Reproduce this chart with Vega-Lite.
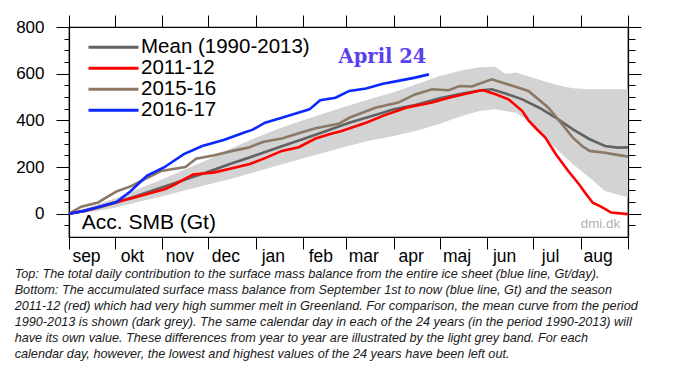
{
  "$schema": "https://vega.github.io/schema/vega-lite/v6.json",
  "width": 559,
  "height": 210,
  "padding": {"left": 14, "top": 14, "right": 5, "bottom": 5},
  "background": "white",
  "config": {
    "font": "Liberation Sans",
    "view": {"stroke": "black", "strokeWidth": 1.2},
    "axis": {"grid": false, "domainColor": "black", "tickColor": "black", "labelColor": "black", "title": null, "tickWidth": 1, "domainWidth": 1.2}
  },
  "title": {
    "text": [
      "Top: The total daily contribution to the surface mass balance from the entire ice sheet (blue line, Gt/day).",
      "Bottom: The accumulated surface mass balance from September 1st to now (blue line, Gt) and the season",
      "2011-12 (red) which had very high summer melt in Greenland. For comparison, the mean curve from the period",
      "1990-2013 is shown (dark grey). The same calendar day in each of the 24 years (in the period 1990-2013) will",
      "have its own value. These differences from year to year are illustrated by the light grey band. For each",
      "calendar day, however, the lowest and highest values of the 24 years have been left out."
    ],
    "orient": "bottom",
    "anchor": "start",
    "frame": "bounds",
    "font": "Liberation Sans",
    "fontStyle": "italic",
    "fontWeight": "normal",
    "fontSize": 12.7,
    "lineHeight": 16,
    "color": "#1a1a1a",
    "offset": 3,
    "dx": -1
  },
  "datasets": {
    "band": [
      {"d": 0, "lo": 0, "hi": 3}, {"d": 15, "lo": 8, "hi": 32}, {"d": 30, "lo": 25, "hi": 65},
      {"d": 45, "lo": 50, "hi": 105}, {"d": 61, "lo": 75, "hi": 148}, {"d": 76, "lo": 100, "hi": 190},
      {"d": 91, "lo": 125, "hi": 232}, {"d": 106, "lo": 150, "hi": 280}, {"d": 122, "lo": 180, "hi": 325},
      {"d": 137, "lo": 208, "hi": 365}, {"d": 153, "lo": 238, "hi": 400}, {"d": 167, "lo": 262, "hi": 430},
      {"d": 181, "lo": 288, "hi": 460}, {"d": 196, "lo": 312, "hi": 490}, {"d": 212, "lo": 333, "hi": 520},
      {"d": 227, "lo": 355, "hi": 555}, {"d": 242, "lo": 385, "hi": 590}, {"d": 257, "lo": 420, "hi": 615},
      {"d": 268, "lo": 440, "hi": 628}, {"d": 278, "lo": 447, "hi": 630}, {"d": 285, "lo": 440, "hi": 600},
      {"d": 292, "lo": 433, "hi": 605}, {"d": 302, "lo": 385, "hi": 585}, {"d": 313, "lo": 311, "hi": 562},
      {"d": 322, "lo": 254, "hi": 546}, {"d": 329, "lo": 212, "hi": 538}, {"d": 340, "lo": 154, "hi": 533},
      {"d": 350, "lo": 97, "hi": 533}, {"d": 365, "lo": 69, "hi": 533}
    ],
    "lines": [
      {"s": "Mean (1990-2013)", "d": 0, "v": 0}, {"s": "Mean (1990-2013)", "d": 10, "v": 12},
      {"s": "Mean (1990-2013)", "d": 20, "v": 28}, {"s": "Mean (1990-2013)", "d": 30, "v": 46},
      {"s": "Mean (1990-2013)", "d": 45, "v": 78}, {"s": "Mean (1990-2013)", "d": 61, "v": 113},
      {"s": "Mean (1990-2013)", "d": 76, "v": 146}, {"s": "Mean (1990-2013)", "d": 91, "v": 180},
      {"s": "Mean (1990-2013)", "d": 106, "v": 215}, {"s": "Mean (1990-2013)", "d": 122, "v": 250},
      {"s": "Mean (1990-2013)", "d": 137, "v": 285}, {"s": "Mean (1990-2013)", "d": 153, "v": 320},
      {"s": "Mean (1990-2013)", "d": 167, "v": 352}, {"s": "Mean (1990-2013)", "d": 183, "v": 390},
      {"s": "Mean (1990-2013)", "d": 196, "v": 415}, {"s": "Mean (1990-2013)", "d": 205, "v": 433},
      {"s": "Mean (1990-2013)", "d": 212, "v": 447}, {"s": "Mean (1990-2013)", "d": 226, "v": 466},
      {"s": "Mean (1990-2013)", "d": 242, "v": 495}, {"s": "Mean (1990-2013)", "d": 257, "v": 515},
      {"s": "Mean (1990-2013)", "d": 268, "v": 528}, {"s": "Mean (1990-2013)", "d": 276, "v": 533},
      {"s": "Mean (1990-2013)", "d": 285, "v": 515}, {"s": "Mean (1990-2013)", "d": 296, "v": 490},
      {"s": "Mean (1990-2013)", "d": 307, "v": 454}, {"s": "Mean (1990-2013)", "d": 318, "v": 411},
      {"s": "Mean (1990-2013)", "d": 329, "v": 361}, {"s": "Mean (1990-2013)", "d": 340, "v": 319},
      {"s": "Mean (1990-2013)", "d": 350, "v": 290}, {"s": "Mean (1990-2013)", "d": 358, "v": 283},
      {"s": "Mean (1990-2013)", "d": 365, "v": 284},

      {"s": "2015-16", "d": 0, "v": 0}, {"s": "2015-16", "d": 8, "v": 30}, {"s": "2015-16", "d": 19, "v": 48},
      {"s": "2015-16", "d": 31, "v": 95}, {"s": "2015-16", "d": 41, "v": 119}, {"s": "2015-16", "d": 47, "v": 140},
      {"s": "2015-16", "d": 60, "v": 183}, {"s": "2015-16", "d": 76, "v": 200}, {"s": "2015-16", "d": 83, "v": 235},
      {"s": "2015-16", "d": 95, "v": 250}, {"s": "2015-16", "d": 106, "v": 268}, {"s": "2015-16", "d": 117, "v": 283},
      {"s": "2015-16", "d": 127, "v": 308}, {"s": "2015-16", "d": 139, "v": 322}, {"s": "2015-16", "d": 150, "v": 345},
      {"s": "2015-16", "d": 161, "v": 366}, {"s": "2015-16", "d": 176, "v": 385}, {"s": "2015-16", "d": 183, "v": 411},
      {"s": "2015-16", "d": 200, "v": 454}, {"s": "2015-16", "d": 215, "v": 476}, {"s": "2015-16", "d": 226, "v": 511},
      {"s": "2015-16", "d": 237, "v": 533}, {"s": "2015-16", "d": 248, "v": 529}, {"s": "2015-16", "d": 255, "v": 547},
      {"s": "2015-16", "d": 263, "v": 545}, {"s": "2015-16", "d": 276, "v": 576}, {"s": "2015-16", "d": 290, "v": 547},
      {"s": "2015-16", "d": 300, "v": 526}, {"s": "2015-16", "d": 313, "v": 454}, {"s": "2015-16", "d": 322, "v": 383},
      {"s": "2015-16", "d": 329, "v": 326}, {"s": "2015-16", "d": 335, "v": 290}, {"s": "2015-16", "d": 340, "v": 269},
      {"s": "2015-16", "d": 350, "v": 261}, {"s": "2015-16", "d": 358, "v": 252}, {"s": "2015-16", "d": 365, "v": 245},

      {"s": "2011-12", "d": 0, "v": 0}, {"s": "2011-12", "d": 10, "v": 12}, {"s": "2011-12", "d": 18, "v": 25},
      {"s": "2011-12", "d": 31, "v": 50}, {"s": "2011-12", "d": 41, "v": 66}, {"s": "2011-12", "d": 51, "v": 84},
      {"s": "2011-12", "d": 63, "v": 106}, {"s": "2011-12", "d": 69, "v": 125}, {"s": "2011-12", "d": 81, "v": 168},
      {"s": "2011-12", "d": 95, "v": 177}, {"s": "2011-12", "d": 110, "v": 200}, {"s": "2011-12", "d": 118, "v": 213},
      {"s": "2011-12", "d": 128, "v": 238}, {"s": "2011-12", "d": 139, "v": 269}, {"s": "2011-12", "d": 150, "v": 285},
      {"s": "2011-12", "d": 161, "v": 322}, {"s": "2011-12", "d": 170, "v": 340}, {"s": "2011-12", "d": 178, "v": 354},
      {"s": "2011-12", "d": 194, "v": 390}, {"s": "2011-12", "d": 205, "v": 419}, {"s": "2011-12", "d": 220, "v": 454},
      {"s": "2011-12", "d": 237, "v": 476}, {"s": "2011-12", "d": 248, "v": 497}, {"s": "2011-12", "d": 257, "v": 511},
      {"s": "2011-12", "d": 270, "v": 530}, {"s": "2011-12", "d": 279, "v": 511}, {"s": "2011-12", "d": 287, "v": 490},
      {"s": "2011-12", "d": 296, "v": 440}, {"s": "2011-12", "d": 300, "v": 400}, {"s": "2011-12", "d": 305, "v": 365},
      {"s": "2011-12", "d": 311, "v": 326}, {"s": "2011-12", "d": 318, "v": 254}, {"s": "2011-12", "d": 326, "v": 183},
      {"s": "2011-12", "d": 333, "v": 126}, {"s": "2011-12", "d": 337, "v": 90}, {"s": "2011-12", "d": 342, "v": 47},
      {"s": "2011-12", "d": 348, "v": 28}, {"s": "2011-12", "d": 354, "v": 5}, {"s": "2011-12", "d": 365, "v": -2},

      {"s": "2016-17", "d": 0, "v": 0}, {"s": "2016-17", "d": 10, "v": 12}, {"s": "2016-17", "d": 18, "v": 26},
      {"s": "2016-17", "d": 31, "v": 50}, {"s": "2016-17", "d": 40, "v": 95}, {"s": "2016-17", "d": 51, "v": 163},
      {"s": "2016-17", "d": 62, "v": 198}, {"s": "2016-17", "d": 75, "v": 255}, {"s": "2016-17", "d": 87, "v": 290},
      {"s": "2016-17", "d": 101, "v": 316}, {"s": "2016-17", "d": 114, "v": 347}, {"s": "2016-17", "d": 120, "v": 360},
      {"s": "2016-17", "d": 128, "v": 390}, {"s": "2016-17", "d": 139, "v": 411}, {"s": "2016-17", "d": 157, "v": 447},
      {"s": "2016-17", "d": 164, "v": 486}, {"s": "2016-17", "d": 174, "v": 497}, {"s": "2016-17", "d": 183, "v": 526},
      {"s": "2016-17", "d": 194, "v": 536}, {"s": "2016-17", "d": 205, "v": 557}, {"s": "2016-17", "d": 215, "v": 569},
      {"s": "2016-17", "d": 226, "v": 583}, {"s": "2016-17", "d": 235, "v": 597}
    ]
  },
  "layer": [
    {
      "data": {"name": "band"},
      "mark": {"type": "area", "color": "#d3d3d3", "opacity": 1},
      "encoding": {
        "x": {"field": "d", "type": "quantitative", "scale": {"domain": [0, 365], "nice": false, "zero": false},
          "axis": {"orient": "bottom", "values": [0, 30, 61, 91, 122, 153, 181, 212, 242, 273, 303, 334, 365], "tickSize": 12, "labelExpr": "['sep','okt','nov','dec','jan','feb','mar','apr','maj','jun','jul','aug',''][indexof([0,30,61,91,122,153,181,212,242,273,303,334,365], datum.value)]", "labelOffset": 17, "labelPadding": -2, "labelFontSize": 17.5, "labelFlush": false, "labelOverlap": false, "labelBound": false}},
        "y": {"field": "lo", "type": "quantitative", "scale": {"domain": [-100, 800], "nice": false, "zero": false},
          "axis": {"orient": "left", "values": [0, 200, 400, 600, 800], "tickSize": 13, "labelPadding": 12, "labelFontSize": 17, "labelFlush": false, "labelOverlap": false}},
        "y2": {"field": "hi"}
      }
    },
    {
      "data": {"name": "lines"},
      "mark": {"type": "line", "strokeWidth": 2.6},
      "encoding": {
        "x": {"field": "d", "type": "quantitative", "scale": {"domain": [0, 365], "nice": false, "zero": false},
          "axis": {"orient": "top", "values": [0, 30, 61, 91, 122, 153, 181, 212, 242, 273, 303, 334, 365], "tickSize": 12, "labels": false}},
        "y": {"field": "v", "type": "quantitative", "scale": {"domain": [-100, 800], "nice": false, "zero": false},
          "axis": {"orient": "left", "values": [-50, 50, 100, 150, 250, 300, 350, 450, 500, 550, 650, 700, 750], "tickSize": 5, "labels": false, "domain": false}},
        "color": {"field": "s", "type": "nominal",
          "scale": {"domain": ["Mean (1990-2013)", "2011-12", "2015-16", "2016-17"], "range": ["#626262", "#ff0000", "#8b7866", "#0a28ff"]},
          "legend": {"orient": "none", "legendX": 18, "legendY": 10, "title": null, "symbolType": "stroke", "symbolSize": 2500, "symbolStrokeWidth": 3, "clipHeight": 20.5, "labelFontSize": 20.5, "labelOffset": 1, "padding": 0, "rowPadding": 0, "labelLimit": 400, "labelColor": "black"}}
      }
    },
    {
      "data": {"values": [{"label": "April 24"}]},
      "mark": {"type": "text", "font": "DejaVu Serif", "fontWeight": "bold", "fontSize": 19.5, "color": "#5a3ff0", "align": "center", "baseline": "middle"},
      "encoding": {
        "text": {"field": "label"},
        "x": {"datum": 204.7, "type": "quantitative", "scale": {"domain": [0, 365], "nice": false, "zero": false}, "axis": null},
        "y": {"datum": 670, "type": "quantitative", "scale": {"domain": [-100, 800], "nice": false, "zero": false},
          "axis": {"orient": "right", "values": [0, 200, 400, 600, 800], "tickSize": 13, "labels": false}}
      }
    },
    {
      "data": {"values": [{"label": "Acc. SMB (Gt)"}]},
      "mark": {"type": "text", "fontSize": 21, "color": "black", "align": "left", "baseline": "alphabetic"},
      "encoding": {
        "text": {"field": "label"},
        "x": {"datum": 8.3, "type": "quantitative", "scale": {"domain": [0, 365], "nice": false, "zero": false}, "axis": null},
        "y": {"datum": -67, "type": "quantitative", "scale": {"domain": [-100, 800], "nice": false, "zero": false},
          "axis": {"orient": "right", "values": [-50, 50, 100, 150, 250, 300, 350, 450, 500, 550, 650, 700, 750], "tickSize": 7, "labels": false, "domain": false}}
      }
    },
    {
      "data": {"values": [{"label": "dmi.dk"}]},
      "mark": {"type": "text", "fontSize": 13.3, "color": "#b0b0b0", "align": "right", "baseline": "alphabetic"},
      "encoding": {
        "text": {"field": "label"},
        "x": {"datum": 359.8, "type": "quantitative", "scale": {"domain": [0, 365], "nice": false, "zero": false}, "axis": null},
        "y": {"datum": -60, "type": "quantitative", "scale": {"domain": [-100, 800], "nice": false, "zero": false}, "axis": null}
      }
    }
  ],
  "resolve": {"axis": {"x": "independent", "y": "independent"}}
}
